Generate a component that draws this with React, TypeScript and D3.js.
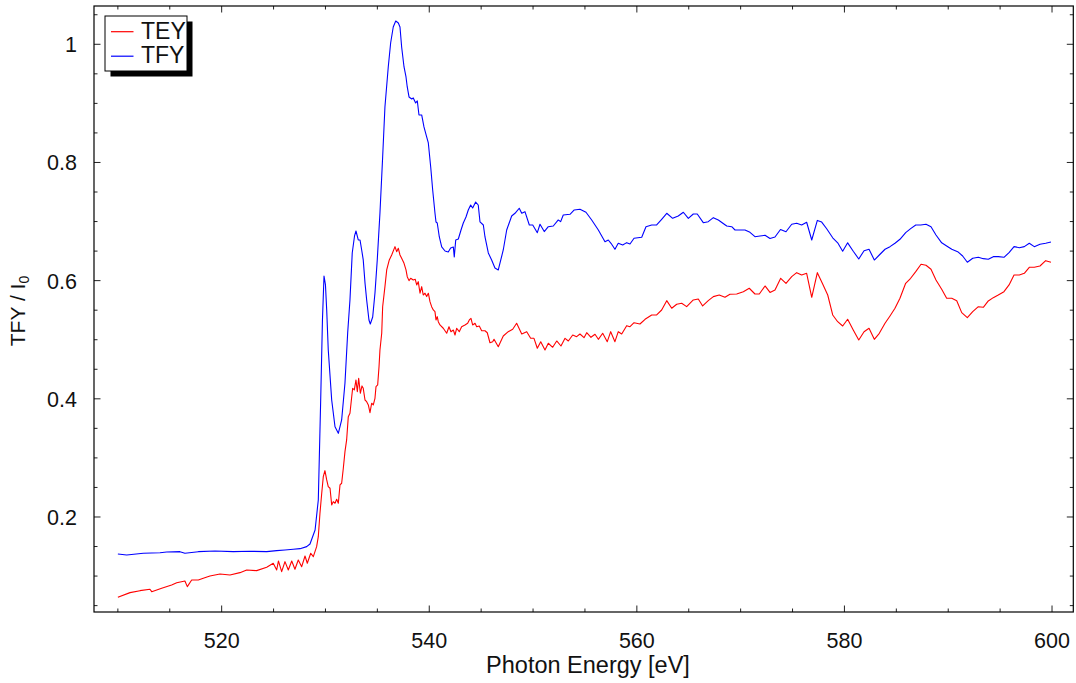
import React from "react";
import * as d3 from "d3";

// ---- Data ----
const tfyEnergy = [
  510.0, 510.85, 512.45, 514.06, 514.7, 515.98, 516.46, 517.75, 519.36, 521.12, 522.73, 524.34, 525.3, 526.1, 526.9, 527.55, 528.19, 528.51,
  529.0, 529.31, 529.54, 529.71, 529.86, 530.0, 530.12, 530.27, 530.6, 530.92, 531.24, 531.56, 531.88, 532.14, 532.36, 532.58, 532.8, 532.94,
  533.16, 533.33, 533.49, 533.64, 533.81, 533.97, 534.19, 534.32, 534.55, 534.77, 534.99, 535.25, 535.51, 535.73, 536.05, 536.28, 536.53,
  536.77, 537.02, 537.18, 537.34, 537.57, 537.76, 537.88, 538.05, 538.31, 538.46, 538.69, 538.85, 539.01, 539.27, 539.49, 539.75, 539.91,
  540.14, 540.33, 540.55, 540.65, 540.77, 540.97, 541.2, 541.52, 541.83, 542.06, 542.32, 542.41, 542.55, 542.8, 543.06, 543.28, 543.54,
  543.76, 543.99, 544.18, 544.47, 544.72, 544.89, 545.21, 545.37, 545.69, 546.01, 546.33, 546.65, 547.13, 547.46, 547.94, 548.26, 548.67,
  548.91, 549.22, 549.64, 549.97, 550.41, 550.67, 551.08, 551.47, 551.95, 552.43, 552.66, 552.91, 553.56, 553.97, 554.52, 555.1, 555.65,
  556.29, 556.93, 557.25, 557.51, 557.89, 558.21, 558.64, 559.02, 559.34, 559.73, 560.47, 560.88, 561.43, 561.91, 562.39, 562.88, 563.45,
  563.99, 564.48, 564.96, 565.44, 565.82, 566.4, 566.88, 567.37, 567.85, 568.66, 569.14, 569.46, 570.42, 570.9, 571.38, 571.86, 572.35,
  572.83, 573.31, 573.84, 574.37, 574.92, 575.4, 575.88, 576.36, 576.85, 577.39, 577.81, 578.29, 578.87, 579.35, 579.83, 580.31, 580.85,
  581.38, 581.89, 582.37, 582.88, 583.36, 583.91, 584.39, 584.87, 585.35, 585.9, 586.38, 586.87, 587.35, 587.86, 588.34, 588.82, 589.37,
  589.85, 590.34, 590.91, 591.39, 591.84, 592.36, 592.9, 593.38, 593.86, 594.34, 594.82, 595.37, 595.86, 596.34, 596.85, 597.33, 597.81,
  598.29, 598.84, 599.39, 599.9,
];
const tfyValue = [
  0.1374, 0.1357, 0.1386, 0.1396, 0.1408, 0.1413, 0.1386, 0.1413, 0.1425, 0.1413, 0.142, 0.1413, 0.143, 0.1442, 0.1454, 0.1464, 0.1498, 0.1543,
  0.178, 0.2288, 0.398, 0.5334, 0.6079, 0.5927, 0.5504, 0.4827, 0.398, 0.3528, 0.3416, 0.3642, 0.4268, 0.5114, 0.5673, 0.6468, 0.6756, 0.684,
  0.6688, 0.6688, 0.6519, 0.635, 0.596, 0.5673, 0.5334, 0.5267, 0.5385, 0.5791, 0.635, 0.7145, 0.8093, 0.8939, 0.9616, 1.0022, 1.0293,
  1.0394, 1.036, 1.0293, 0.9955, 0.9616, 0.9447, 0.9278, 0.9109, 0.9075, 0.9092, 0.9007, 0.9041, 0.8804, 0.8804, 0.8601, 0.8432, 0.833,
  0.7924, 0.7535, 0.7145, 0.6993, 0.6976, 0.6739, 0.657, 0.6502, 0.6485, 0.6553, 0.657, 0.64, 0.6688, 0.6705, 0.6857, 0.6976, 0.7077,
  0.7196, 0.728, 0.7229, 0.733, 0.728, 0.6993, 0.6942, 0.6739, 0.6468, 0.635, 0.6215, 0.6181, 0.6519, 0.6857, 0.7094, 0.714, 0.7225,
  0.714, 0.7167, 0.6942, 0.6942, 0.6812, 0.6954, 0.683, 0.6913, 0.6925, 0.7027, 0.6998, 0.7111, 0.7123, 0.7196, 0.7208, 0.7157, 0.7027,
  0.6857, 0.6659, 0.6688, 0.6632, 0.653, 0.6632, 0.6604, 0.6643, 0.662, 0.6717, 0.6734, 0.6913, 0.6942, 0.6942, 0.7038, 0.714, 0.7055,
  0.7094, 0.7157, 0.7055, 0.7128, 0.7128, 0.6981, 0.6998, 0.7066, 0.7027, 0.6925, 0.6913, 0.6857, 0.6857, 0.6818, 0.6744, 0.6755, 0.6767,
  0.6713, 0.6738, 0.6866, 0.6828, 0.6954, 0.6971, 0.6942, 0.6988, 0.6688, 0.7019, 0.6991, 0.6878, 0.6725, 0.664, 0.6498, 0.664, 0.6498,
  0.6367, 0.6507, 0.6531, 0.6349, 0.6434, 0.6531, 0.6575, 0.6632, 0.67, 0.6812, 0.688, 0.6942, 0.6942, 0.6954, 0.6913, 0.6773, 0.664,
  0.6586, 0.653, 0.649, 0.6417, 0.6311, 0.6379, 0.6395, 0.6372, 0.6362, 0.6406, 0.6406, 0.6395, 0.6473, 0.6575, 0.6558, 0.6575, 0.6632,
  0.6575, 0.6616, 0.6632, 0.6654,
];

const teyEnergy = [
  510.0, 511.17, 512.13, 513.09, 513.26, 514.22, 515.18, 515.67, 516.46, 516.69, 517.11, 517.75, 518.23, 518.87, 519.84, 520.8, 521.76, 522.41,
  523.37, 524.34, 524.97, 525.3, 525.47, 525.78, 526.1, 526.42, 526.75, 527.06, 527.38, 527.71, 528.03, 528.25, 528.58, 528.83, 529.15,
  529.31, 529.47, 529.64, 529.79, 529.95, 530.12, 530.27, 530.44, 530.6, 530.75, 530.92, 531.08, 531.24, 531.4, 531.56, 531.72, 531.88,
  532.04, 532.2, 532.36, 532.53, 532.62, 532.78, 532.94, 533.07, 533.2, 533.36, 533.52, 533.64, 533.81, 533.97, 534.13, 534.29, 534.45,
  534.61, 534.77, 534.87, 535.03, 535.16, 535.25, 535.42, 535.51, 535.73, 535.9, 536.15, 536.38, 536.7, 536.86, 537.02, 537.18, 537.34,
  537.57, 537.76, 537.88, 538.05, 538.21, 538.46, 538.65, 538.79, 538.94, 539.11, 539.27, 539.42, 539.59, 539.75, 539.91, 540.07, 540.23,
  540.39, 540.55, 540.65, 540.77, 540.87, 541.03, 541.35, 541.68, 541.9, 542.09, 542.32, 542.48, 542.64, 542.89, 543.12, 543.44, 543.7,
  543.86, 544.02, 544.18, 544.41, 544.57, 544.82, 545.05, 545.37, 545.59, 545.85, 546.11, 546.24, 546.65, 547.13, 547.61, 548.04, 548.42,
  548.91, 549.39, 549.77, 550.09, 550.41, 550.74, 551.15, 551.47, 551.89, 552.28, 552.69, 553.08, 553.4, 553.82, 554.2, 554.52, 554.91,
  555.17, 555.58, 555.97, 556.29, 556.71, 557.15, 557.48, 557.89, 558.21, 558.54, 559.02, 559.34, 559.73, 560.3, 560.79, 561.43, 561.91,
  562.39, 562.88, 563.36, 563.84, 564.32, 564.8, 565.44, 565.92, 566.34, 566.88, 567.37, 567.94, 568.49, 568.97, 569.62, 570.26, 570.83,
  571.38, 571.8, 572.35, 572.83, 573.31, 573.86, 574.37, 574.92, 575.4, 575.88, 576.36, 576.85, 577.39, 577.87, 578.39, 578.87, 579.35,
  579.83, 580.31, 580.85, 581.38, 581.89, 582.37, 582.88, 583.36, 583.91, 584.39, 584.87, 585.35, 585.9, 586.38, 586.87, 587.38, 587.86,
  588.34, 588.82, 589.37, 589.85, 590.34, 590.82, 591.3, 591.84, 592.36, 592.9, 593.38, 593.86, 594.34, 594.82, 595.37, 595.86, 596.34,
  596.85, 597.33, 597.81, 598.29, 598.84, 599.39, 599.9,
];
const teyValue = [
  0.0641, 0.072, 0.0753, 0.0777, 0.0736, 0.0794, 0.085, 0.0888, 0.0917, 0.0821, 0.0934, 0.0934, 0.0963, 0.1002, 0.1036, 0.1019, 0.1058, 0.1103,
  0.1092, 0.1149, 0.1217, 0.1103, 0.1256, 0.1075, 0.1244, 0.1103, 0.1256, 0.1115, 0.1273, 0.1159, 0.134, 0.1217, 0.1386, 0.1328, 0.1498,
  0.1667, 0.2063, 0.2401, 0.2682, 0.2784, 0.2627, 0.2513, 0.2486, 0.2204, 0.226, 0.2233, 0.23, 0.2233, 0.2542, 0.2571, 0.2825, 0.3106,
  0.3304, 0.3698, 0.3755, 0.4036, 0.4178, 0.415, 0.4319, 0.4121, 0.4348, 0.4094, 0.4218, 0.4178, 0.398, 0.3952, 0.3896, 0.3766, 0.3925,
  0.3896, 0.4009, 0.4206, 0.4235, 0.4544, 0.4827, 0.5109, 0.5559, 0.5898, 0.6181, 0.635, 0.6434, 0.6575, 0.649, 0.6548, 0.6434, 0.6378,
  0.6293, 0.6181, 0.6067, 0.6, 0.604, 0.6011, 0.6023, 0.5927, 0.5983, 0.5787, 0.5898, 0.5757, 0.5787, 0.573, 0.5787, 0.5644, 0.556,
  0.5504, 0.5475, 0.5335, 0.539, 0.5305, 0.525, 0.5194, 0.5109, 0.522, 0.5136, 0.5165, 0.508, 0.5194, 0.5136, 0.522, 0.525, 0.5278,
  0.5334, 0.5363, 0.525, 0.5278, 0.522, 0.5231, 0.5152, 0.5152, 0.5118, 0.4949, 0.4966, 0.5007, 0.4881, 0.5063, 0.5136, 0.5177, 0.5278,
  0.5097, 0.5136, 0.5024, 0.5024, 0.4855, 0.4966, 0.4826, 0.494, 0.4872, 0.4979, 0.4894, 0.5024, 0.4979, 0.508, 0.5052, 0.5097, 0.5035,
  0.5119, 0.5041, 0.5092, 0.5007, 0.5109, 0.4967, 0.5136, 0.4967, 0.5136, 0.5097, 0.5238, 0.522, 0.5288, 0.5266, 0.5346, 0.5419, 0.5419,
  0.5503, 0.5661, 0.5532, 0.56, 0.5617, 0.556, 0.5673, 0.569, 0.5572, 0.5661, 0.5729, 0.5758, 0.5719, 0.5769, 0.5774, 0.5813, 0.5871,
  0.5774, 0.5774, 0.591, 0.58, 0.5842, 0.604, 0.5955, 0.6067, 0.6135, 0.6096, 0.6124, 0.5718, 0.6135, 0.5955, 0.5757, 0.5419, 0.5305,
  0.5232, 0.5346, 0.5165, 0.4996, 0.5136, 0.5194, 0.5007, 0.5109, 0.5278, 0.5402, 0.5532, 0.5702, 0.5955, 0.604, 0.6152, 0.6277, 0.626,
  0.6192, 0.6011, 0.5854, 0.5702, 0.5702, 0.5661, 0.5458, 0.5373, 0.5475, 0.5559, 0.5549, 0.5656, 0.5712, 0.5757, 0.5813, 0.5927, 0.6096,
  0.6096, 0.6124, 0.6226, 0.6226, 0.6248, 0.6338, 0.631,
];

const xMajorTicks = [520, 540, 560, 580, 600];
const yMajorTicks = [0.2, 0.4, 0.6, 0.8, 1];
const yTickLabels = ["0.2", "0.4", "0.6", "0.8", "1"];
const seriesNames = ["TEY", "TFY"];
const seriesColors = ["#ff0000", "#0000ff"];

const W = 1076;
const H = 683;
const L = 94, R = 1073.3, T = 6, B = 612;

export default function App() {
  const x = d3.scaleLinear().domain([507.7, 602.05]).range([L, R]);
  const y = d3.scaleLinear().domain([0.0392, 1.0648]).range([B, T]);

  const xMinor = d3.range(510, 601, 5).filter((v) => !xMajorTicks.includes(v));
  const yMinor = d3.range(0.05, 1.06, 0.05).filter((v) => !yMajorTicks.some((m) => Math.abs(m - v) < 1e-6));

  const line = d3
    .line<[number, number]>()
    .x((d) => x(d[0]))
    .y((d) => y(d[1]));

  const tey: [number, number][] = teyEnergy.map((e, i) => [e, teyValue[i]]);
  const tfy: [number, number][] = tfyEnergy.map((e, i) => [e, tfyValue[i]]);

  const font = "'Liberation Sans', Arial, Helvetica, sans-serif";
  const maj = 6.5, mnr = 3.5;

  return (
    <svg width={W} height={H} style={{ position: "absolute", left: 0, top: 0, background: "#fff" }} fontFamily={font}>
      <rect x={0} y={0} width={W} height={H} fill="#fff" />
      <defs>
        <clipPath id="plotclip">
          <rect x={L} y={T} width={R - L} height={B - T} />
        </clipPath>
      </defs>
      <g clipPath="url(#plotclip)" fill="none" strokeWidth={1.1} strokeLinejoin="round">
        <path d={line(tey) || ""} stroke={seriesColors[0]} />
        <path d={line(tfy) || ""} stroke={seriesColors[1]} />
      </g>
      {/* ticks */}
      <g stroke="#222" strokeWidth={1}>
        {xMajorTicks.map((v) => (
          <g key={"xm" + v}>
            <line x1={x(v)} x2={x(v)} y1={B} y2={B - maj} />
            <line x1={x(v)} x2={x(v)} y1={T} y2={T + maj} />
          </g>
        ))}
        {xMinor.map((v) => (
          <g key={"xn" + v}>
            <line x1={x(v)} x2={x(v)} y1={B} y2={B - mnr} />
            <line x1={x(v)} x2={x(v)} y1={T} y2={T + mnr} />
          </g>
        ))}
        {yMajorTicks.map((v) => (
          <g key={"ym" + v}>
            <line x1={L} x2={L + maj} y1={y(v)} y2={y(v)} />
            <line x1={R} x2={R - maj} y1={y(v)} y2={y(v)} />
          </g>
        ))}
        {yMinor.map((v) => (
          <g key={"yn" + v.toFixed(2)}>
            <line x1={L} x2={L + mnr} y1={y(v)} y2={y(v)} />
            <line x1={R} x2={R - mnr} y1={y(v)} y2={y(v)} />
          </g>
        ))}
      </g>
      <rect x={L} y={T} width={R - L} height={B - T} fill="none" stroke="#000" strokeWidth={1.2} />
      {/* tick labels */}
      <g fontSize={21.5} fill="#111">
        {xMajorTicks.map((v) => (
          <text key={"xl" + v} x={x(v)} y={648} textAnchor="middle">
            {String(v)}
          </text>
        ))}
        {yMajorTicks.map((v, i) => (
          <text key={"yl" + v} x={77} y={y(v) + 8} textAnchor="end">
            {yTickLabels[i]}
          </text>
        ))}
      </g>
      <text x={588} y={673} textAnchor="middle" fontSize={23.5} fill="#111">
        Photon Energy [eV]
      </text>
      <text transform="translate(25,311) rotate(-90)" textAnchor="middle" fontSize={21} fill="#111">
        TFY / I<tspan fontSize={14} dy={4}>0</tspan>
      </text>
      {/* legend */}
      <rect x={110.5} y={21.5} width={82} height={55} fill="#000" />
      <rect x={105} y={16} width={82} height={55} fill="#fff" stroke="#000" strokeWidth={1} />
      {seriesNames.map((n, i) => (
        <g key={n}>
          <line x1={111} x2={133.5} y1={31.7 + i * 24.5} y2={31.7 + i * 24.5} stroke={seriesColors[i]} strokeWidth={1.2} />
          <text x={141} y={38.5 + i * 24.8} fontSize={23} fill="#111">
            {n}
          </text>
        </g>
      ))}
    </svg>
  );
}
